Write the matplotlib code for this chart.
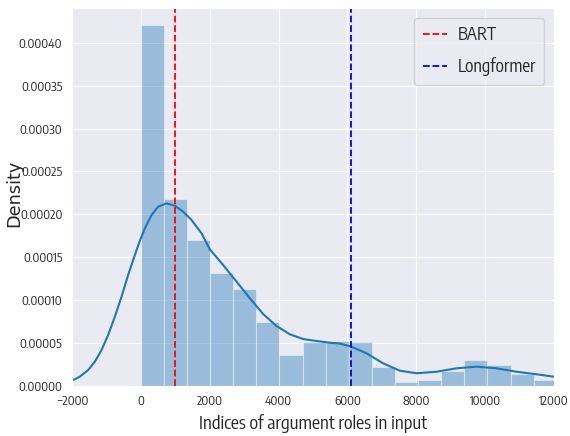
import matplotlib
matplotlib.use("Agg")
import matplotlib.pyplot as plt
import seaborn as sns
import numpy as np

# ---- data ----
bin_edges = np.linspace(0, 12080, 19)
density = [0.000421, 0.0002179, 0.0001703, 0.0001318, 0.0001131, 0.0000745,
           0.0000360, 0.0000512, 0.0000523, 0.0000512, 0.0000216, 0.0000037,
           0.0000064, 0.0000166, 0.0000301, 0.0000240, 0.0000138, 0.0000064]

kde_x = [-2000, -1772, -1531, -1336, -1141, -950, -755, -561, -369, -174, -29,
         116, 311, 502, 746, 988, 1229, 1473, 1763, 2004, 2390, 2780, 3166,
         3552, 3941, 4328, 4714, 5103, 5489, 5780, 6120, 6555, 7037, 7522,
         8008, 8588, 9169, 9750, 10331, 10912, 11493, 12000]
kde_y = [5.6e-6, 1.03e-5, 1.81e-5, 2.78e-5, 4.15e-5, 5.90e-5, 8.04e-5,
         1.037e-4, 1.291e-4, 1.524e-4, 1.69e-4, 1.836e-4, 1.992e-4, 2.089e-4,
         2.128e-4, 2.100e-4, 2.030e-4, 1.933e-4, 1.778e-4, 1.590e-4, 1.408e-4,
         1.213e-4, 1.019e-4, 8.35e-5, 6.95e-5, 5.98e-5, 5.43e-5, 5.20e-5,
         5.00e-5, 4.90e-5, 4.53e-5, 3.76e-5, 2.59e-5, 1.73e-5, 1.43e-5,
         1.61e-5, 2.01e-5, 2.20e-5, 2.01e-5, 1.61e-5, 1.31e-5, 1.03e-5]

bart_mean = 1000
longformer_mean = 6100
line_labels = ["BART", "Longformer"]
x_label = "Indices of argument roles in input"
y_label = "Density"
x_ticks = [-2000, 0, 2000, 4000, 6000, 8000, 10000, 12000]
y_ticks = [0.0, 0.00005, 0.00010, 0.00015, 0.00020, 0.00025, 0.00030, 0.00035, 0.00040]

# ---- style ----
sns.set_style("darkgrid")
narrow = "Encode Sans Condensed"
plt.rcParams['font.family'] = [narrow, 'DejaVu Sans']

fig = plt.figure(figsize=(5.7, 4.36), dpi=100)
ax = fig.add_axes([0.1263, 0.1158, 0.9719 - 0.1263, 0.9817 - 0.1158])

blue = '#1f77b4'
widths = np.diff(bin_edges)
ax.bar(bin_edges[:-1], density, width=widths, align='edge', color=blue,
       alpha=0.4, edgecolor='white', linewidth=0.8)
ax.plot(kde_x, kde_y, color=blue, lw=1.5, solid_joinstyle='round')

ax.axvline(bart_mean, color='red', ls='--', lw=1.3, label=line_labels[0])
ax.axvline(longformer_mean, color='blue', ls='--', lw=1.3, label=line_labels[1])

ax.set_xlim(-2000, 12000)
ax.set_ylim(0, 0.000441)
ax.set_xticks(x_ticks)
ax.set_yticks(y_ticks)
ax.set_yticklabels([f"{v:.5f}" for v in y_ticks])
ax.tick_params(labelsize=9, colors='.15')

ax.set_xlabel(x_label, fontsize=13, color='.15', labelpad=4)
ax.set_ylabel(y_label, fontsize=12.8, family='DejaVu Sans', color='.15')
ax.yaxis.set_label_coords(-0.101, 0.51)

leg = ax.legend(loc='upper right', fontsize=12.5, frameon=True,
                handlelength=1.4, handletextpad=0.6, labelspacing=0.75,
                borderpad=0.5, borderaxespad=0.55)

fig.savefig("out.png", dpi=100)
